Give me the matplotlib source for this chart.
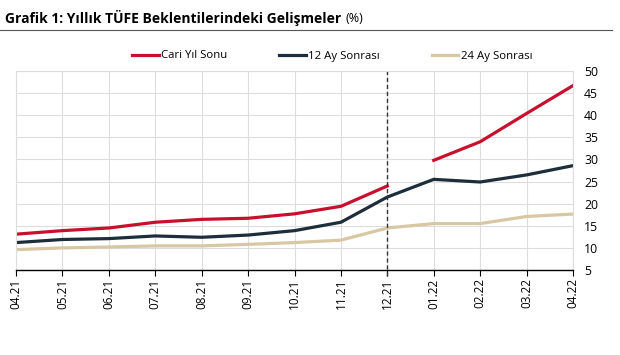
import matplotlib
matplotlib.use('Agg')
import matplotlib.pyplot as plt
import numpy as np
from matplotlib.lines import Line2D

months = ['04.21', '05.21', '06.21', '07.21', '08.21', '09.21', '10.21',
          '11.21', '12.21', '01.22', '02.22', '03.22', '04.22']
cari_yil = [13.1, 13.9, 14.5, 15.8, 16.45, 16.7, 17.7, 19.4, 24.0,
            29.8, 34.0, 40.4, 46.7]
ay12 = [11.2, 11.9, 12.1, 12.7, 12.4, 12.9, 13.9, 15.8, 21.5,
        25.5, 24.9, 26.5, 28.6]
ay24 = [9.6, 10.0, 10.2, 10.45, 10.45, 10.8, 11.2, 11.75, 14.5,
        15.5, 15.5, 17.1, 17.65]
break_idx = 9  # Cari Yıl Sonu resets in January

plt.rcParams['font.family'] = ['Open Sans', 'DejaVu Sans']

fig = plt.figure(figsize=(6.2, 3.55), dpi=100)
ax = fig.add_axes([16/620, 1-270/355, (573-16)/620, (270-71)/355])

x = np.arange(len(months))
red = '#C8102E'
navy = '#1E2D3B'
beige = '#D8C7A3'

ax.plot(x[:break_idx], cari_yil[:break_idx], color=red, lw=2.3, label='Cari Yıl Sonu')
ax.plot(x[break_idx:], cari_yil[break_idx:], color=red, lw=2.3)
ax.plot(x, ay12, color=navy, lw=2.3, label='12 Ay Sonrası')
ax.plot(x, ay24, color=beige, lw=2.3, label='24 Ay Sonrası')

ax.axvline(8, color='#333333', lw=1, ls=(0, (3, 2)), ymin=-0.03, clip_on=False)

ax.set_xlim(0, 12)
ax.set_ylim(5, 50)
ax.set_yticks(range(5, 51, 5))
ax.set_xticks(x)
ax.set_xticklabels(months, rotation=90, fontsize=8.5)
ax.yaxis.tick_right()
ax.tick_params(axis='y', length=0, labelsize=8.8, pad=8)
ax.tick_params(axis='x', length=4, color='black', pad=2)
ax.grid(True, color='#DDDDDD', lw=0.8)
ax.set_axisbelow(True)
for s in ['top', 'right', 'left']:
    ax.spines[s].set_color('#DDDDDD')
    ax.spines[s].set_linewidth(0.8)
ax.spines['bottom'].set_color('black')
ax.spines['bottom'].set_linewidth(1)

leg = fig.legend(loc='center', bbox_to_anchor=(332/620, 1-56/355), ncol=3,
                 frameon=False, fontsize=8.2, handlelength=2.35, handletextpad=0.2,
                 columnspacing=4.55)

fig.text(5/620, 1-18/355, 'Grafik 1: Yıllık TÜFE Beklentilerindeki Gelişmeler',
         fontsize=10, fontweight='bold', va='center', ha='left')
fig.text(346/620, 1-18/355, '(%)', fontsize=9, va='center', ha='left')
fig.add_artist(Line2D([0, 612/620], [1-30/355, 1-30/355], color='#555555', lw=0.8))

fig.savefig('out.png', dpi=100)
